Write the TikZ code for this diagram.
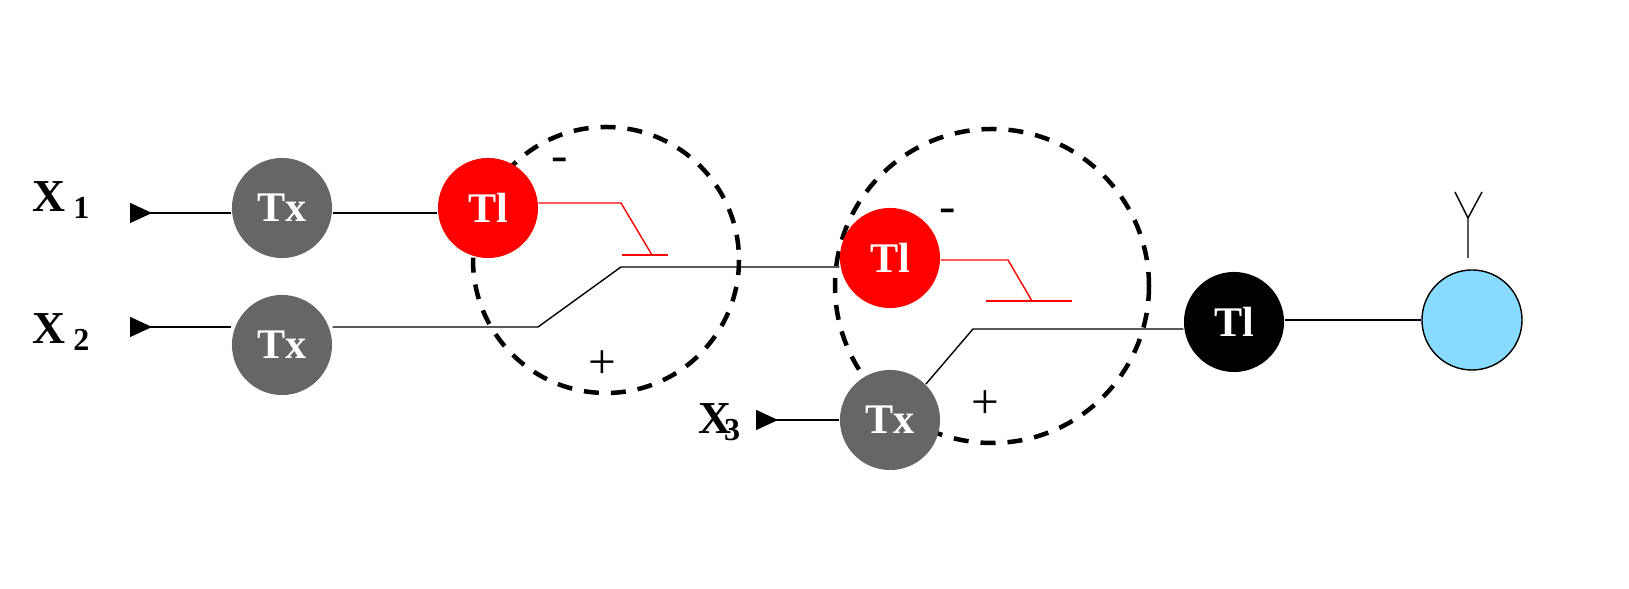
\documentclass[tikz,border=0pt]{standalone}
\usepackage{fontspec}
\setmainfont{Liberation Serif}
\usetikzlibrary{arrows.meta}
\definecolor{txgray}{HTML}{666666}
\definecolor{tlred}{HTML}{FF0000}
\definecolor{skyblue}{HTML}{87DBFF}
\tikzset
  {
    txNode/.style=    {circle, fill=txgray, minimum size=1cm, inner sep=0pt, text=white, font=\bfseries\fontsize{12}{12}\selectfont},
    tlNode/.style=    {circle, fill=tlred, minimum size=1cm, inner sep=0pt, text=white, font=\bfseries\fontsize{12}{12}\selectfont},
    inLine/.style=    {{Triangle[reversed,length=2.2mm,width=2mm]}-, thin},
    gate/.style=      {dash pattern=on 1.5mm off 1.2mm, line width=0.45mm},
    inhib/.style=     {tlred, thin},
    xlab/.style=      {font=\bfseries\fontsize{13}{13}\selectfont}
  }
\begin{document}
\begin{tikzpicture}[x=0.01cm, y=-0.01cm]

% gating circles
\draw[gate] (606,260) circle [radius=133];
\draw[gate] (992,286) circle [radius=157];

% nodes
\node[txNode] (tx1) at (282,208) {Tx};
\node[txNode] (tx2) at (282,345) {Tx};
\node[txNode] (tx3) at (890,420) {Tx};
\node[tlNode] (tl1) at (488,208) {Tl};
\node[tlNode] (tl2) at (890,258) {Tl};
\node[tlNode, fill=black] (tl3) at (1234,322) {Tl};
\node[circle, draw, thin, fill=skyblue, minimum size=1cm, inner sep=0pt] (out) at (1472,320) {};

% inputs
\coordinate (in1) at (130,213);
\coordinate (in2) at (130,327);
\coordinate (in3) at (756,420);
\draw[inLine] (in1) -- (tx1.west |- in1);
\draw[inLine] (in2) -- (tx2.west |- in2);
\draw[inLine] (in3) -- (tx3.west);

\node[xlab, inner sep=0pt] (x1) at (62,200) {X\,\textsubscript{1}};
\node[xlab, inner sep=0pt] (x2) at (62,332) {X\,\textsubscript{2}};
\node[xlab, inner sep=0pt] (x3) at (720,422) {X\kern-2pt\textsubscript{3}};

% connections
\draw[thin] (tx1.east |- in1) -- (tl1.west |- in1);
\draw[thin] (tx2.east |- in2) -- (538,327) -- (621,267) -- (tl2.west |- 0,267);
\draw[thin] (tx3.north east) -- (973,329) -- (tl3.west |- 0,329);
\draw[thin] (tl3.east |- out) -- (out.west);

% inhibitory links
\draw[inhib] (tl1.east |- 0,203) -- (621,203) -- (652,255);
\draw[inhib] (622,255) -- (668,255);
\draw[inhib] (tl2.east |- 0,260) -- (1008,260) -- (1032,301);
\draw[inhib] (986,301) -- (1072,301);

% antenna
\draw[thin] (1468,258) -- (1468,218) -- (1455,192);
\draw[thin] (1468,218) -- (1482,192);

% signs
\node (m1) at (560,165) {\fontsize{14}{14}\selectfont -};
\node (m2) at (948,216) {\fontsize{14}{14}\selectfont -};
\node (p1) at (602,365) {\fontsize{14}{14}\selectfont +};
\node (p2) at (985,405) {\fontsize{14}{14}\selectfont +};

\pgfresetboundingbox
\useasboundingbox (0,0) rectangle (1629,589);
\end{tikzpicture}
\end{document}
